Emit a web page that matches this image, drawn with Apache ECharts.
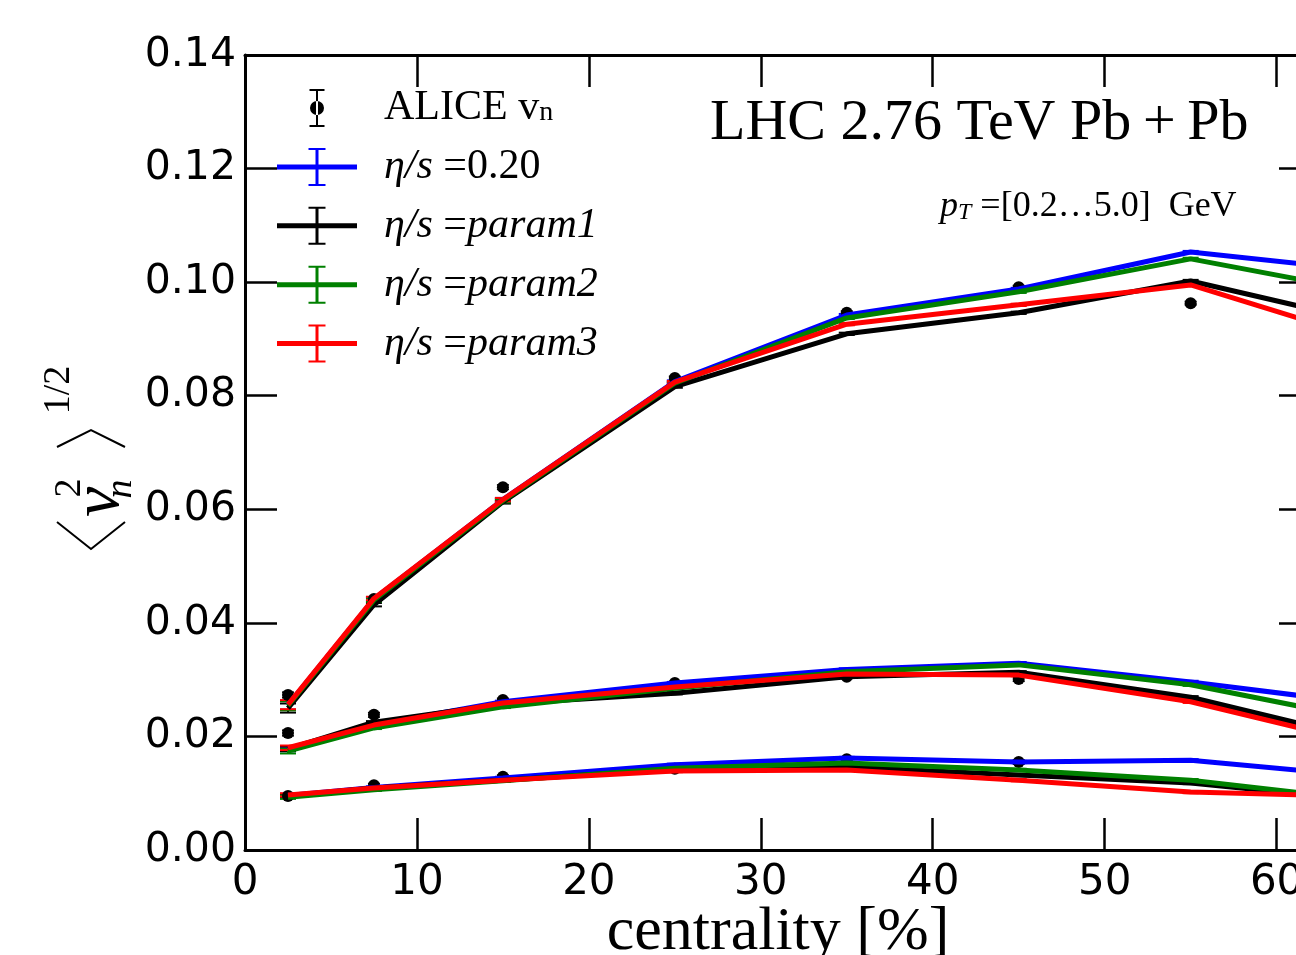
<!DOCTYPE html>
<html>
<head>
<meta charset="utf-8">
<script src="https://cdn.jsdelivr.net/npm/echarts@6/dist/echarts.min.js"></script>
<style>html,body{margin:0;padding:0;background:#fff;overflow:hidden;}#c{width:1296px;height:955px;}</style>
</head>
<body>
<div id="c"></div>
<script>
// ---- data ----
const cent = [2.5, 7.5, 15, 25, 35, 45, 55, 65];
const aliceCent = [2.5, 7.5, 15, 25, 35, 45, 55];

const aliceV2 = [0.0273, 0.0442, 0.0639, 0.0831, 0.0946, 0.0991, 0.0963];
const aliceV3 = [0.0206, 0.0238, 0.0264, 0.0294, 0.0305, 0.0301];
const aliceV4 = [0.0095, 0.0114, 0.0129, 0.0143, 0.0160, 0.0155];
const aliceErrV2 = [0.0005, 0.0004, 0.0004, 0.0003, 0.0003, 0.0003, 0.0003];
const aliceErrV3 = [0.0005, 0.0004, 0.0003, 0.0003, 0.0003, 0.0004];
const aliceErrV4 = [0.0003, 0.0003, 0.0003, 0.0003, 0.0003, 0.0004];

const v2Blue  = [0.0255, 0.0442, 0.0617, 0.0825, 0.0942, 0.0988, 0.1053, 0.1021];
const v2Black = [0.0250, 0.0432, 0.0613, 0.0816, 0.0909, 0.0946, 0.1002, 0.0932];
const v2Green = [0.0254, 0.0440, 0.0615, 0.0822, 0.0937, 0.0983, 0.1041, 0.0984];
const v2Red   = [0.0256, 0.0443, 0.0617, 0.0824, 0.0926, 0.0960, 0.0995, 0.0902];

const v3Blue  = [0.0178, 0.0220, 0.0261, 0.0294, 0.0318, 0.0329, 0.0296, 0.0258];
const v3Black = [0.0178, 0.0225, 0.0257, 0.0276, 0.0305, 0.0313, 0.0269, 0.0196];
const v3Green = [0.0174, 0.0215, 0.0252, 0.0285, 0.0314, 0.0326, 0.0291, 0.0231];
const v3Red   = [0.0180, 0.0220, 0.0259, 0.0287, 0.0310, 0.0308, 0.0261, 0.0188];

const v4Blue  = [0.0096, 0.0110, 0.0127, 0.0150, 0.0162, 0.0155, 0.0158, 0.0130];
const v4Black = [0.0095, 0.0109, 0.0123, 0.0142, 0.0146, 0.0132, 0.0118, 0.0088];
const v4Green = [0.0093, 0.0106, 0.0122, 0.0144, 0.0153, 0.0141, 0.0123, 0.0088];
const v4Red   = [0.0097, 0.0109, 0.0123, 0.0139, 0.0141, 0.0123, 0.0102, 0.0094];

const modelErrV2 = [0.0008, 0.0003, 0.0003, 0.0002, 0.0002, 0.0002, 0.0002, 0.0002];
const modelErrV3 = [0.0004, 0.0002, 0.0002, 0.0002, 0.0002, 0.0002, 0.0002, 0.0002];
const modelErrV4 = [0.0003, 0.0002, 0.0002, 0.0002, 0.0002, 0.0002, 0.0002, 0.0002];

const yTicks = [0, 0.02, 0.04, 0.06, 0.08, 0.10, 0.12, 0.14];
const xTicks = [0, 10, 20, 30, 40, 50, 60];

const models = [
  {key: 'eta020', color: '#0000ff', v2: v2Blue,  v3: v3Blue,  v4: v4Blue},
  {key: 'param1', color: '#000000', v2: v2Black, v3: v3Black, v4: v4Black},
  {key: 'param2', color: '#008000', v2: v2Green, v3: v3Green, v4: v4Green},
  {key: 'param3', color: '#ff0000', v2: v2Red,   v3: v3Red,   v4: v4Red}
];

// ---- helpers ----
function zip(xs, ys, es) { return ys.map((y, i) => es ? [xs[i], y, es[i]] : [xs[i], y]); }

function errorSeries(name, data, color, capHalf, lw) {
  return {
    type: 'custom', name: name, data: data, clip: true, silent: true,
    itemStyle: {color: color},
    encode: {x: 0, y: 1},
    renderItem: function (params, api) {
      const x = api.value(0), y = api.value(1), e = api.value(2);
      const t = api.coord([x, y + e]), b = api.coord([x, y - e]);
      const st = {stroke: color, lineWidth: lw};
      return {type: 'group', children: [
        {type: 'line', shape: {x1: t[0], y1: t[1], x2: b[0], y2: b[1]}, style: st},
        {type: 'line', shape: {x1: t[0] - capHalf, y1: t[1], x2: t[0] + capHalf, y2: t[1]}, style: st},
        {type: 'line', shape: {x1: b[0] - capHalf, y1: b[1], x2: b[0] + capHalf, y2: b[1]}, style: st}
      ]};
    }
  };
}

const series = [];
// ALICE data
[[aliceV2, aliceErrV2], [aliceV3, aliceErrV3], [aliceV4, aliceErrV4]].forEach(function (p) {
  series.push({type: 'scatter', name: 'ALICE', data: zip(aliceCent, p[0]), symbol: 'circle',
    symbolSize: 12, itemStyle: {color: '#000', opacity: 1}, silent: true});
  series.push(errorSeries('ALICE', zip(aliceCent, p[0], p[1]), '#000', 6, 1.5));
});
// models
models.forEach(function (m) {
  [[m.v2, modelErrV2], [m.v3, modelErrV3], [m.v4, modelErrV4]].forEach(function (p) {
    series.push({type: 'line', name: m.key, data: zip(cent, p[0]), showSymbol: false, symbol: 'none',
      lineStyle: {color: m.color, width: 5}, itemStyle: {color: m.color}, silent: true, clip: true});
    series.push(errorSeries(m.key, zip(cent, p[0], p[1]), m.color, 8, 2));
  });
});

const crossIcon = 'path://M0,16.5h80v5h-80z M38.5,0h3v38h-3z M31.5,0h17v2h-17z M31.5,36h17v2h-17z';
const dotIcon = 'path://M0,18.9h0.1v0.2h-0.1z M79.9,18.9h0.1v0.2h-0.1z M39,0h2v38h-2z M32.5,0h15v2h-15z M32.5,36h15v2h-15z M33,19a7,7 0 1,0 14,0a7,7 0 1,0 -14,0z';

const legendText = {
  ALICE: '{sp| }{r|ALICE v}{sub|n}',
  eta020: '{sp| }{i|η/s}{r| =0.20}',
  param1: '{sp| }{i|η/s}{r| =}{i|param1}',
  param2: '{sp| }{i|η/s}{r| =}{i|param2}',
  param3: '{sp| }{i|η/s}{r| =}{i|param3}'
};

const SERIF = 'Liberation Serif';
const axisCommon = {
  axisLine: {show: true, onZero: false, lineStyle: {color: '#000', width: 3}},
  axisTick: {show: true, inside: true, length: 32, lineStyle: {color: '#000', width: 2.5}},
  splitLine: {show: false}
};

const option = {
  animation: false,
  backgroundColor: '#fff',
  grid: {left: 245, top: 55, width: 1066, height: 795, containLabel: false, outerBoundsMode: 'none'},
  xAxis: [
    Object.assign({type: 'value', min: 0, max: 62, interval: 10, position: 'bottom',
      name: 'centrality [%]', nameLocation: 'middle', nameGap: 52, nameMoveOverlap: false,
      nameTextStyle: {fontFamily: SERIF, fontSize: 62, color: '#000'},
      axisLabel: {show: true, showMaxLabel: false, margin: 12, fontFamily: 'DejaVu Sans', fontSize: 42, color: '#000',
        formatter: function (v) { return xTicks.indexOf(v) >= 0 ? String(v) : ''; }}}, axisCommon),
    Object.assign({type: 'value', min: 0, max: 62, interval: 10, position: 'top', axisLabel: {show: false}}, axisCommon)
  ],
  yAxis: [
    Object.assign({type: 'value', min: 0, max: 0.14, interval: 0.02, position: 'left',
      axisLabel: {show: true, margin: 9, fontFamily: 'DejaVu Sans', fontSize: 41, color: '#000',
        formatter: function (v) { return yTicks.some(t => Math.abs(t - v) < 1e-9) ? v.toFixed(2) : ''; }}}, axisCommon),
    Object.assign({type: 'value', min: 0, max: 0.14, interval: 0.02, position: 'right', axisLabel: {show: false}}, axisCommon)
  ],
  legend: {
    left: 272, top: 82, orient: 'vertical', itemWidth: 80, itemHeight: 38, itemGap: 16.9,
    selectedMode: false,
    itemStyle: {borderWidth: 0},
    data: [
      {name: 'ALICE', icon: dotIcon, itemStyle: {color: '#000'}},
      {name: 'eta020', icon: crossIcon},
      {name: 'param1', icon: crossIcon},
      {name: 'param2', icon: crossIcon},
      {name: 'param3', icon: crossIcon}
    ],
    formatter: function (n) { return legendText[n]; },
    textStyle: {
      color: '#000',
      rich: {
        sp: {width: 22, fontSize: 10},
        r: {fontFamily: SERIF, fontSize: 42, lineHeight: 38, color: '#000'},
        i: {fontFamily: SERIF, fontStyle: 'italic', fontSize: 42, lineHeight: 38, color: '#000'},
        sub: {fontFamily: SERIF, fontSize: 28, lineHeight: 20, verticalAlign: 'bottom', color: '#000'}
      }
    }
  },
  graphic: [
    {type: 'text', left: 710, top: 95, style: {text: 'LHC 2.76 TeV Pb\u2009+\u2009Pb', fontFamily: SERIF, fontSize: 58, fill: '#000'}},
    {type: 'text', left: 940, top: 189, style: {
      text: '{i|p}{sub|T}{r| =[0.2…5.0]  GeV}',
      rich: {
        i: {fontFamily: SERIF, fontStyle: 'italic', fontSize: 36, lineHeight: 36, fill: '#000'},
        r: {fontFamily: SERIF, fontSize: 36, lineHeight: 36, fill: '#000'},
        sub: {fontFamily: SERIF, fontStyle: 'italic', fontSize: 24, lineHeight: 16, verticalAlign: 'bottom', fill: '#000'}
      }}},
    // y-axis label  <v_n^2>^{1/2}
    {type: 'polyline', shape: {points: [[57, 522], [91, 549], [125, 522]]}, style: {stroke: '#000', lineWidth: 2, fill: null}},
    {type: 'polyline', shape: {points: [[57, 447], [91, 430], [125, 447]]}, style: {stroke: '#000', lineWidth: 2, fill: null}},
    {type: 'group', x: 91, y: 552, rotation: Math.PI / 2, children: [
      {type: 'text', x: 50, y: 9, style: {text: 'v', fontFamily: SERIF, fontStyle: 'italic', fontSize: 68, fill: '#000', align: 'center', verticalAlign: 'middle'}},
      {type: 'text', x: 64, y: -21, style: {text: '2', fontFamily: SERIF, fontSize: 38, fill: '#000', align: 'center', verticalAlign: 'middle'}},
      {type: 'text', x: 63, y: 30, style: {text: 'n', fontFamily: SERIF, fontStyle: 'italic', fontSize: 38, fill: '#000', align: 'center', verticalAlign: 'middle'}},
      {type: 'text', x: 162, y: -32, style: {text: '1/2', fontFamily: SERIF, fontSize: 38, fill: '#000', align: 'center', verticalAlign: 'middle'}}
    ]}
  ],
  series: series
};

const chart = echarts.init(document.getElementById('c'), null, {renderer: 'canvas'});
chart.setOption(option);
</script>
</body>
</html>
